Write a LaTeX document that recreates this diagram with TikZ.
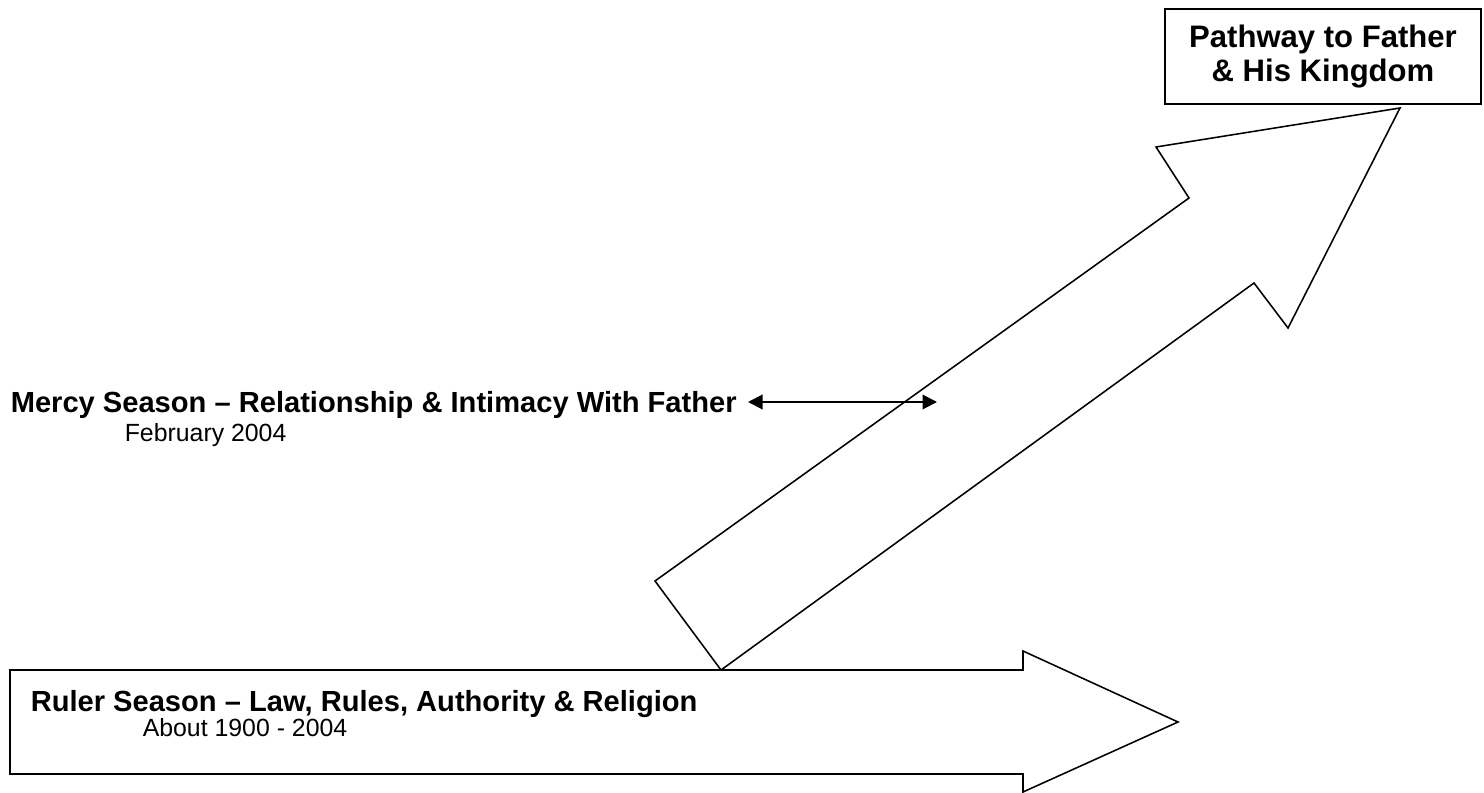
\documentclass[tikz,border=0pt]{standalone}
\usepackage{fontspec}
\setmainfont{Liberation Sans}
\usetikzlibrary{arrows.meta,positioning}

\begin{document}
\begin{tikzpicture}[x=0.4828pt, y=-0.4828pt, line width=0.75pt]
\tikzstyle{every node} = [inner sep=0pt, anchor=base west]
\tikzstyle{season} = [font=\bfseries\fontsize{14.05}{16.4}\selectfont]
\tikzstyle{when} = [font=\fontsize{12}{14}\selectfont]
\fill[white] (0,0) rectangle (1484,793);
\useasboundingbox (0,0) rectangle (1484,793);
% the two block arrows
\draw (10,670) -- (1023,670) -- (1023,651) -- (1178,722) -- (1023,792) -- (1023,774) -- (10,774) -- cycle;
\draw (721,670) -- (655,581) -- (1189,198) -- (1156,147) -- (1400,108) -- (1288,328) -- (1254,283) -- cycle;
% texts
\node[season] (mercy) at (10,412) {Mercy Season – Relationship \& Intimacy With Father};
\node[when] (feb) at (124,441) {February 2004};
\node[season] (ruler) at (30,711) {Ruler Season – Law, Rules, Authority \& Religion};
\node[when] (about) at (142,736) {About 1900 - 2004};
\node[draw, anchor=center, align=center, font=\bfseries\fontsize{15}{16.6}\selectfont, minimum width=152.6pt, minimum height=45.9pt] (goal) at (1323,56.5) {Pathway to Father\\\& His Kingdom};
% double arrow
\coordinate (ml) at (748,402);
\coordinate (mr) at (937,402);
\draw[{Triangle[length=7pt,width=7pt]}-{Triangle[length=7pt,width=7pt]}, line width=1pt] (ml) -- (mr);
\end{tikzpicture}
\end{document}
